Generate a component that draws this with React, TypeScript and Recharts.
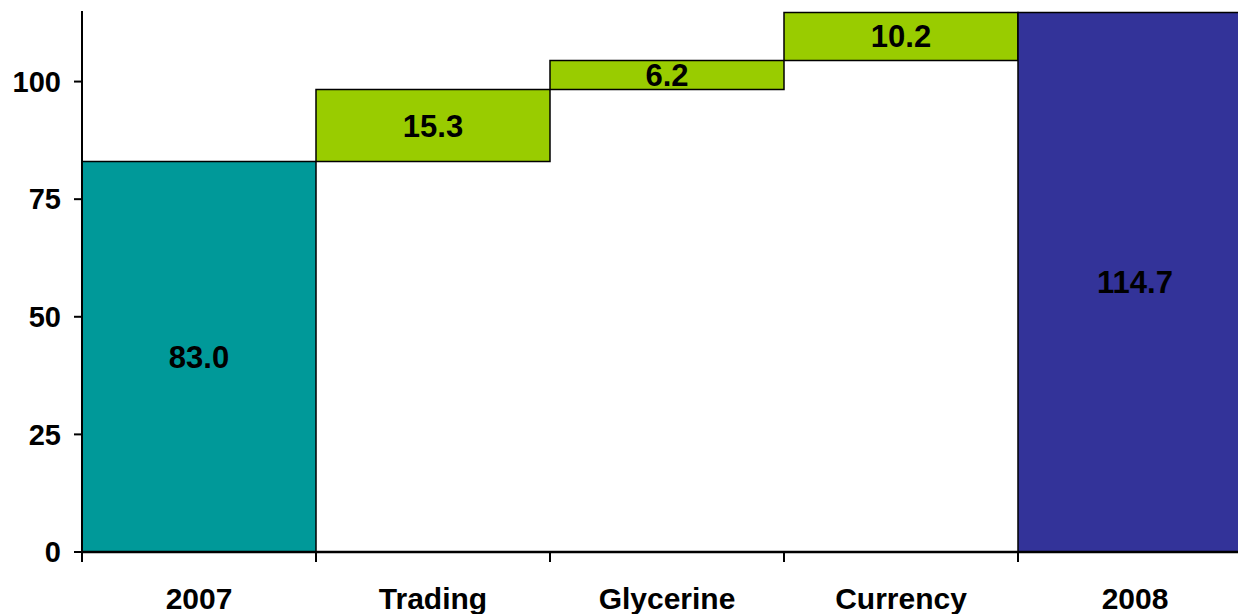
import React from 'react';
import { BarChart, Bar, Cell, XAxis, YAxis, LabelList } from 'recharts';

// Waterfall: 2007 -> drivers -> 2008
const categories = ['2007', 'Trading', 'Glycerine', 'Currency', '2008'];
const baseValues = [0, 83.0, 98.3, 104.5, 0];
const deltaValues = [83.0, 15.3, 6.2, 10.2, 114.7];
const barColors = ['#009999', '#99CC00', '#99CC00', '#99CC00', '#333399'];
const yTicks = [0, 25, 50, 75, 100];

const data = categories.map((name, i) => ({
  name,
  base: baseValues[i],
  delta: deltaValues[i],
}));

const CHART_W = 1260;
const CHART_H = 614;
const MARGIN = { top: 11, right: 8, bottom: 0, left: 0 };
const Y_AXIS_W = 82;
const X_AXIS_H = 62;
const BAND = (CHART_W - MARGIN.left - MARGIN.right - Y_AXIS_W) / categories.length;
const FONT = '"Liberation Sans", Arial, sans-serif';

const XTick = (props: any) => {
  const { x, y, payload, index } = props;
  const axisY = CHART_H - X_AXIS_H;
  return (
    <g>
      <line x1={x - BAND / 2} x2={x - BAND / 2} y1={axisY} y2={axisY + 10} stroke="#000" strokeWidth={2} />
      {index === categories.length - 1 && (
        <line x1={x + BAND / 2} x2={x + BAND / 2} y1={axisY} y2={axisY + 10} stroke="#000" strokeWidth={2} />
      )}
      <text
        x={x}
        y={axisY + 57}
        textAnchor="middle"
        fontFamily={FONT}
        fontWeight="bold"
        fontSize={30}
        fill="#000"
      >
        {payload.value}
      </text>
    </g>
  );
};

export default function App() {
  return (
    <div
      style={{
        position: 'fixed',
        left: 0,
        top: 0,
        width: 1238,
        height: 614,
        overflow: 'hidden',
        background: '#fff',
      }}
    >
      <BarChart
        width={CHART_W}
        height={CHART_H}
        data={data}
        margin={MARGIN}
        barCategoryGap={0}
        barGap={0}
      >
        <XAxis
          dataKey="name"
          height={X_AXIS_H}
          axisLine={{ stroke: '#000', strokeWidth: 2.5 }}
          tickLine={false}
          tick={<XTick />}
          interval={0}
        />
        <YAxis
          width={Y_AXIS_W}
          domain={[0, 115]}
          ticks={yTicks}
          allowDataOverflow
          axisLine={{ stroke: '#000', strokeWidth: 2 }}
          tickLine={{ stroke: '#000', strokeWidth: 2 }}
          tickSize={8}
          tickMargin={13}
          tick={{ fill: '#000', fontSize: 29, fontWeight: 'bold', fontFamily: FONT }}
        />
        <Bar dataKey="base" stackId="w" fill="transparent" isAnimationActive={false} />
        <Bar dataKey="delta" stackId="w" stroke="#000" strokeWidth={1.5} isAnimationActive={false}>
          {data.map((d, i) => (
            <Cell key={d.name} fill={barColors[i]} />
          ))}
          <LabelList
            dataKey="delta"
            position="center"
            formatter={(v: any) => Number(v).toFixed(1)}
            style={{ fill: '#000', fontSize: 31, fontWeight: 'bold', fontFamily: FONT }}
          />
        </Bar>
      </BarChart>
    </div>
  );
}
